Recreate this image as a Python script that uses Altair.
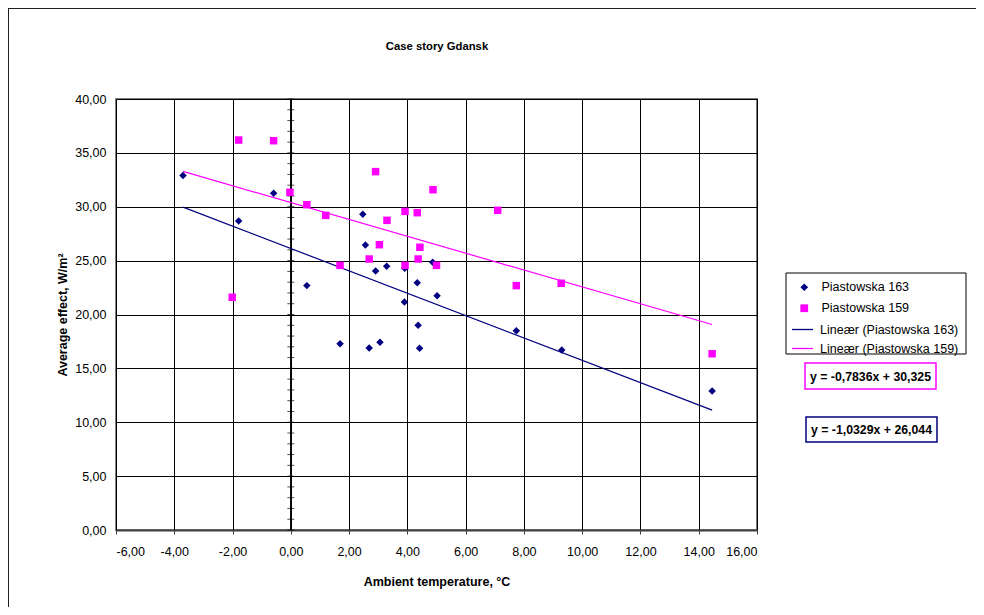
import altair as alt
import pandas as pd

# ---- data ----
chart_title = "Case story Gdansk"
point_names = ["Piastowska 163", "Piastowska 159"]
line_names = ["Lineær (Piastowska 163)", "Lineær (Piastowska 159)"]
colors = ["#000080", "#FF00FF"]

x163 = [-3.70, -1.79, -0.59, 0.55, 1.69, 2.47, 2.56, 2.69, 2.91, 3.06, 3.29,
        3.90, 3.91, 4.34, 4.37, 4.42, 4.87, 5.02, 7.74, 9.30, 14.46]
y163 = [32.90, 28.68, 31.25, 22.68, 17.29, 29.30, 26.45, 16.89, 24.04, 17.42, 24.47,
        21.16, 24.30, 22.95, 19.00, 16.86, 24.85, 21.75, 18.50, 16.71, 12.90]

x159 = [-2.01, -1.79, -0.59, -0.03, 0.55, 1.20, 1.69, 2.69, 2.91, 3.04, 3.30,
        3.92, 3.92, 4.34, 4.37, 4.43, 4.88, 5.00, 7.10, 7.74, 9.28, 14.46]
y159 = [21.60, 36.19, 36.13, 31.34, 30.19, 29.20, 24.56, 25.15, 33.26, 26.48, 28.74,
        29.57, 24.56, 29.45, 25.15, 26.24, 31.58, 24.56, 29.67, 22.68, 22.90, 16.36]

equations = ["y = -0,7836x + 30,325", "y = -1,0329x + 26,044"]

x_ticks = list(range(-6, 17, 2))
y_ticks = list(range(0, 41, 5))
y_minor = list(range(0, 41, 1))

FONT = "Liberation Sans"
FS = 12.5

df = pd.DataFrame({
    "x": x163 + x159,
    "y": y163 + y159,
    "series": [point_names[0]] * len(x163) + [point_names[1]] * len(x159),
})

label_expr = "replace(replace(format(datum.value, '.2f'), '.', ','), '\u2212', '-')"

X = alt.X("x:Q", scale=alt.Scale(domain=[-6, 16], nice=False, zero=False),
          axis=alt.Axis(values=x_ticks, labelExpr=label_expr, grid=True, gridColor="black",
                        gridWidth=1, gridOpacity=1, tickColor="#404040", tickSize=4,
                        domainColor="#404040", domainWidth=2, labelFont=FONT, labelFontSize=FS,
                        labelColor="black", labelPadding=11.5,
                        title="Ambient temperature, \u00b0C", titleFont=FONT, titleFontSize=FS,
                        titleFontWeight="bold", titleColor="black", titleX=320.5, titleY=51,
                        titleAlign="center", titleBaseline="middle"))
Y = alt.Y("y:Q", scale=alt.Scale(domain=[0, 40], nice=False),
          axis=alt.Axis(values=y_ticks, labelExpr=label_expr, grid=True, gridColor="black",
                        gridWidth=1, gridOpacity=1, ticks=False, domain=False,
                        labelFont=FONT, labelFontSize=FS, labelColor="black", labelPadding=10,
                        title="Average effect, W/m\u00b2", titleFont=FONT, titleFontSize=FS,
                        titleFontWeight="bold", titleColor="black", titleAngle=270,
                        titleX=-54, titleY=215.5, titleAlign="center", titleBaseline="middle"))

legend_pts = alt.Legend(
    title=None, orient="none", legendX=682, legendY=182, padding=0, rowPadding=6,
    labelFont=FONT, labelFontSize=FS, labelColor="black", labelOffset=11,
    symbolSize=60, labelLimit=300, symbolOpacity=1, zindex=5,
)
legend_lines = alt.Legend(
    title=None, orient="none", legendX=675, legendY=219, padding=0, rowPadding=1,
    labelFont=FONT, labelFontSize=FS, labelColor="black", labelOffset=6,
    symbolSize=440, symbolType="stroke", symbolStrokeWidth=1.3, labelLimit=300, zindex=5,
)

fill = alt.Fill("series:N", scale=alt.Scale(domain=point_names, range=colors), legend=legend_pts)
shape = alt.Shape("series:N", scale=alt.Scale(domain=point_names, range=["diamond", "square"]),
                  legend=legend_pts)

points = alt.Chart(df).mark_point(filled=True, opacity=1, size=56).encode(
    x=X, y=Y, fill=fill, shape=shape)

lines = alt.Chart(df).transform_regression(
    "x", "y", groupby=["series"], extent=[min(x163), max(x163)]
).transform_calculate(
    series="'Lineær (' + datum.series + ')'"
).mark_line(strokeWidth=1.2).encode(
    x=X, y=Y,
    stroke=alt.Stroke("series:N", scale=alt.Scale(domain=line_names, range=colors), legend=legend_lines))

zero_rule = alt.Chart(pd.DataFrame({"x": [0]})).mark_rule(color="black", strokeWidth=1.5).encode(x=X)
zero_ticks = alt.Chart(pd.DataFrame({"x": [0] * len(y_minor), "y": y_minor})).mark_tick(
    orient="horizontal", size=7, thickness=1, color="black").encode(x=X, y=Y)

eq_df = pd.DataFrame({"t": equations})
title_txt = alt.Chart(pd.DataFrame({"t": [chart_title]})).mark_text(
    font=FONT, fontSize=11.3, fontWeight="bold", color="black", baseline="middle").encode(
    text="t:N", x=alt.value(321), y=alt.value(-52))
legend_box = alt.Chart(eq_df.iloc[[0]]).mark_rect(fillOpacity=0, stroke="black", strokeWidth=1).encode(
    x=alt.value(670), x2=alt.value(850), y=alt.value(174), y2=alt.value(255))
eq_box1 = alt.Chart(eq_df.iloc[[0]]).mark_rect(fill="white", stroke="#FF00FF", strokeWidth=1.5).encode(
    x=alt.value(689), x2=alt.value(820), y=alt.value(264), y2=alt.value(290))
eq_txt1 = alt.Chart(eq_df.iloc[[0]]).mark_text(font=FONT, fontSize=12.3, fontWeight="bold", color="black").encode(
    text="t:N", x=alt.value(754.5), y=alt.value(277.5))
eq_box2 = alt.Chart(eq_df.iloc[[1]]).mark_rect(fill="white", stroke="#000080", strokeWidth=1.5).encode(
    x=alt.value(690), x2=alt.value(821), y=alt.value(318), y2=alt.value(343))
eq_txt2 = alt.Chart(eq_df.iloc[[1]]).mark_text(font=FONT, fontSize=12.3, fontWeight="bold", color="black").encode(
    text="t:N", x=alt.value(755.5), y=alt.value(331))

border_left = alt.Chart(eq_df.iloc[[0]]).mark_rule(color="#202020", strokeWidth=2).encode(
    x=alt.value(-108), y=alt.value(-91), y2=alt.value(520))
border_top = alt.Chart(eq_df.iloc[[0]]).mark_rule(color="#202020", strokeWidth=2).encode(
    x=alt.value(-108), x2=alt.value(870), y=alt.value(-91))

chart = alt.layer(
    zero_rule, zero_ticks, lines, points, legend_box, eq_box1, eq_txt1, eq_box2, eq_txt2,
    title_txt, border_left, border_top
).resolve_scale(
    fill="independent", stroke="independent", shape="independent"
).properties(
    width=641, height=431,
    autosize=alt.AutoSizeParams(type="none"),
    padding={"left": 108, "top": 91, "right": 219, "bottom": 77},
    background="white",
).configure_view(stroke="#808080", strokeWidth=2)

chart.save("out.html", embed_options={"renderer": "svg", "actions": False})
